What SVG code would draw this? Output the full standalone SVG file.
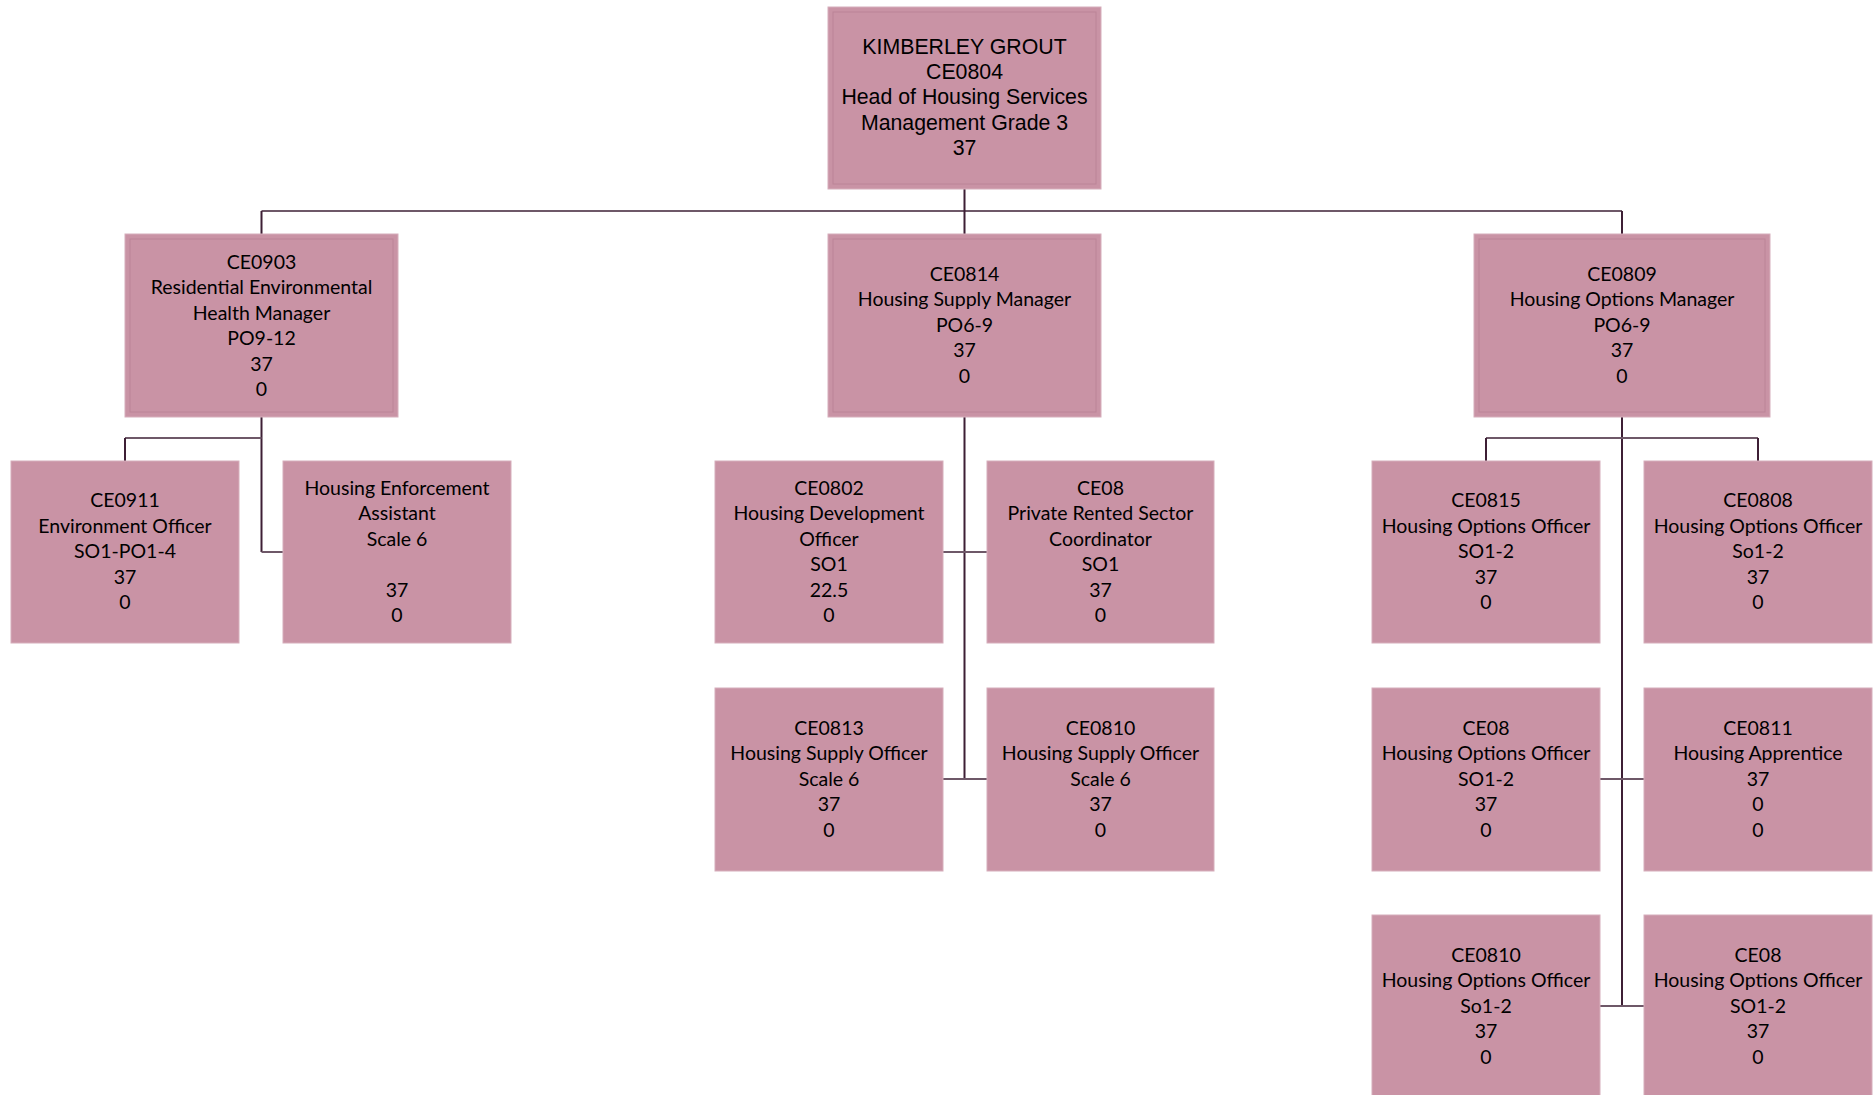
<svg xmlns="http://www.w3.org/2000/svg" width="1874" height="1095" viewBox="0 0 1874 1095">
<style>
.box{fill:#C993A5;stroke:#D6AEBB;stroke-width:1}
.inner{fill:none;stroke:#BB8497;stroke-width:1}
.t{font-family:Lato,"Liberation Sans",sans-serif;font-size:19.5px;fill:#000;text-anchor:middle}
.ta{font-family:"Liberation Sans",Arial,sans-serif;font-size:21.3px;fill:#000;text-anchor:middle}
.v{stroke:#3D1F35;stroke-width:2;fill:none}
.h{stroke:#6E5868;stroke-width:2;fill:none}
</style>
<rect width="1874" height="1095" fill="#fff"/>
<g id="connectors">
<path class="h" d="M261.5 211H1622"/>
<path class="v" d="M964.5 189V234M261.5 211V234M1622 211V234"/>
<path class="v" d="M261.5 417V552"/>
<path class="h" d="M125 438H261.5M261.5 552H283"/>
<path class="v" d="M125 438V461"/>
<path class="v" d="M964.5 417V779"/>
<path class="h" d="M943 552H987M943 779H987"/>
<path class="v" d="M1622 417V1006"/>
<path class="h" d="M1486 438H1758M1600 779H1644M1600 1006H1644"/>
<path class="v" d="M1486 438V461M1758 438V461"/>
</g>
<g id="n0804">
<rect class="box" x="828" y="7" width="273" height="182"/>
<rect class="inner" x="833" y="12" width="263" height="172"/>
<text class="ta"><tspan x="964.5" y="54">KIMBERLEY GROUT</tspan><tspan x="964.5" y="79.2">CE0804</tspan><tspan x="964.5" y="104.4">Head of Housing Services</tspan><tspan x="964.5" y="129.6">Management Grade 3</tspan><tspan x="964.5" y="154.8">37</tspan></text>
</g>
<g id="n0903">
<rect class="box" x="125" y="234" width="273" height="183"/>
<rect class="inner" x="130" y="239" width="263" height="173"/>
<text class="t"><tspan x="261.5" y="268.5">CE0903</tspan><tspan x="261.5" y="294">Residential Environmental</tspan><tspan x="261.5" y="319.5">Health Manager</tspan><tspan x="261.5" y="345">PO9-12</tspan><tspan x="261.5" y="370.5">37</tspan><tspan x="261.5" y="396">0</tspan></text>
</g>
<g id="n0814">
<rect class="box" x="828" y="234" width="273" height="183"/>
<rect class="inner" x="833" y="239" width="263" height="173"/>
<text class="t"><tspan x="964.5" y="280.5">CE0814</tspan><tspan x="964.5" y="306">Housing Supply Manager</tspan><tspan x="964.5" y="331.5">PO6-9</tspan><tspan x="964.5" y="357">37</tspan><tspan x="964.5" y="382.5">0</tspan></text>
</g>
<g id="n0809">
<rect class="box" x="1474" y="234" width="296" height="183"/>
<rect class="inner" x="1479" y="239" width="286" height="173"/>
<text class="t"><tspan x="1622" y="280.5">CE0809</tspan><tspan x="1622" y="306">Housing Options Manager</tspan><tspan x="1622" y="331.5">PO6-9</tspan><tspan x="1622" y="357">37</tspan><tspan x="1622" y="382.5">0</tspan></text>
</g>
<g id="n0911">
<rect class="box" x="11" y="461" width="228" height="182"/>
<text class="t"><tspan x="125" y="507">CE0911</tspan><tspan x="125" y="532.5">Environment Officer</tspan><tspan x="125" y="558">SO1-PO1-4</tspan><tspan x="125" y="583.5">37</tspan><tspan x="125" y="609">0</tspan></text>
</g>
<g id="nHEA">
<rect class="box" x="283" y="461" width="228" height="182"/>
<text class="t"><tspan x="397" y="494.5">Housing Enforcement</tspan><tspan x="397" y="520">Assistant</tspan><tspan x="397" y="545.5">Scale 6</tspan><tspan x="397" y="596.5">37</tspan><tspan x="397" y="622">0</tspan></text>
</g>
<g id="n0802">
<rect class="box" x="715" y="461" width="228" height="182"/>
<text class="t"><tspan x="829" y="494.5">CE0802</tspan><tspan x="829" y="520">Housing Development</tspan><tspan x="829" y="545.5">Officer</tspan><tspan x="829" y="571">SO1</tspan><tspan x="829" y="596.5">22.5</tspan><tspan x="829" y="622">0</tspan></text>
</g>
<g id="nPRS">
<rect class="box" x="987" y="461" width="227" height="182"/>
<text class="t"><tspan x="1100.5" y="494.5">CE08</tspan><tspan x="1100.5" y="520">Private Rented Sector</tspan><tspan x="1100.5" y="545.5">Coordinator</tspan><tspan x="1100.5" y="571">SO1</tspan><tspan x="1100.5" y="596.5">37</tspan><tspan x="1100.5" y="622">0</tspan></text>
</g>
<g id="n0813">
<rect class="box" x="715" y="688" width="228" height="183"/>
<text class="t"><tspan x="829" y="734.5">CE0813</tspan><tspan x="829" y="760">Housing Supply Officer</tspan><tspan x="829" y="785.5">Scale 6</tspan><tspan x="829" y="811">37</tspan><tspan x="829" y="836.5">0</tspan></text>
</g>
<g id="n0810a">
<rect class="box" x="987" y="688" width="227" height="183"/>
<text class="t"><tspan x="1100.5" y="734.5">CE0810</tspan><tspan x="1100.5" y="760">Housing Supply Officer</tspan><tspan x="1100.5" y="785.5">Scale 6</tspan><tspan x="1100.5" y="811">37</tspan><tspan x="1100.5" y="836.5">0</tspan></text>
</g>
<g id="n0815">
<rect class="box" x="1372" y="461" width="228" height="182"/>
<text class="t"><tspan x="1486" y="507">CE0815</tspan><tspan x="1486" y="532.5">Housing Options Officer</tspan><tspan x="1486" y="558">SO1-2</tspan><tspan x="1486" y="583.5">37</tspan><tspan x="1486" y="609">0</tspan></text>
</g>
<g id="n0808">
<rect class="box" x="1644" y="461" width="228" height="182"/>
<text class="t"><tspan x="1758" y="507">CE0808</tspan><tspan x="1758" y="532.5">Housing Options Officer</tspan><tspan x="1758" y="558">So1-2</tspan><tspan x="1758" y="583.5">37</tspan><tspan x="1758" y="609">0</tspan></text>
</g>
<g id="nCE08a">
<rect class="box" x="1372" y="688" width="228" height="183"/>
<text class="t"><tspan x="1486" y="734.5">CE08</tspan><tspan x="1486" y="760">Housing Options Officer</tspan><tspan x="1486" y="785.5">SO1-2</tspan><tspan x="1486" y="811">37</tspan><tspan x="1486" y="836.5">0</tspan></text>
</g>
<g id="n0811">
<rect class="box" x="1644" y="688" width="228" height="183"/>
<text class="t"><tspan x="1758" y="734.5">CE0811</tspan><tspan x="1758" y="760">Housing Apprentice</tspan><tspan x="1758" y="785.5">37</tspan><tspan x="1758" y="811">0</tspan><tspan x="1758" y="836.5">0</tspan></text>
</g>
<g id="n0810b">
<rect class="box" x="1372" y="915" width="228" height="183"/>
<text class="t"><tspan x="1486" y="961.5">CE0810</tspan><tspan x="1486" y="987">Housing Options Officer</tspan><tspan x="1486" y="1012.5">So1-2</tspan><tspan x="1486" y="1038">37</tspan><tspan x="1486" y="1063.5">0</tspan></text>
</g>
<g id="nCE08b">
<rect class="box" x="1644" y="915" width="228" height="183"/>
<text class="t"><tspan x="1758" y="961.5">CE08</tspan><tspan x="1758" y="987">Housing Options Officer</tspan><tspan x="1758" y="1012.5">SO1-2</tspan><tspan x="1758" y="1038">37</tspan><tspan x="1758" y="1063.5">0</tspan></text>
</g>
</svg>
